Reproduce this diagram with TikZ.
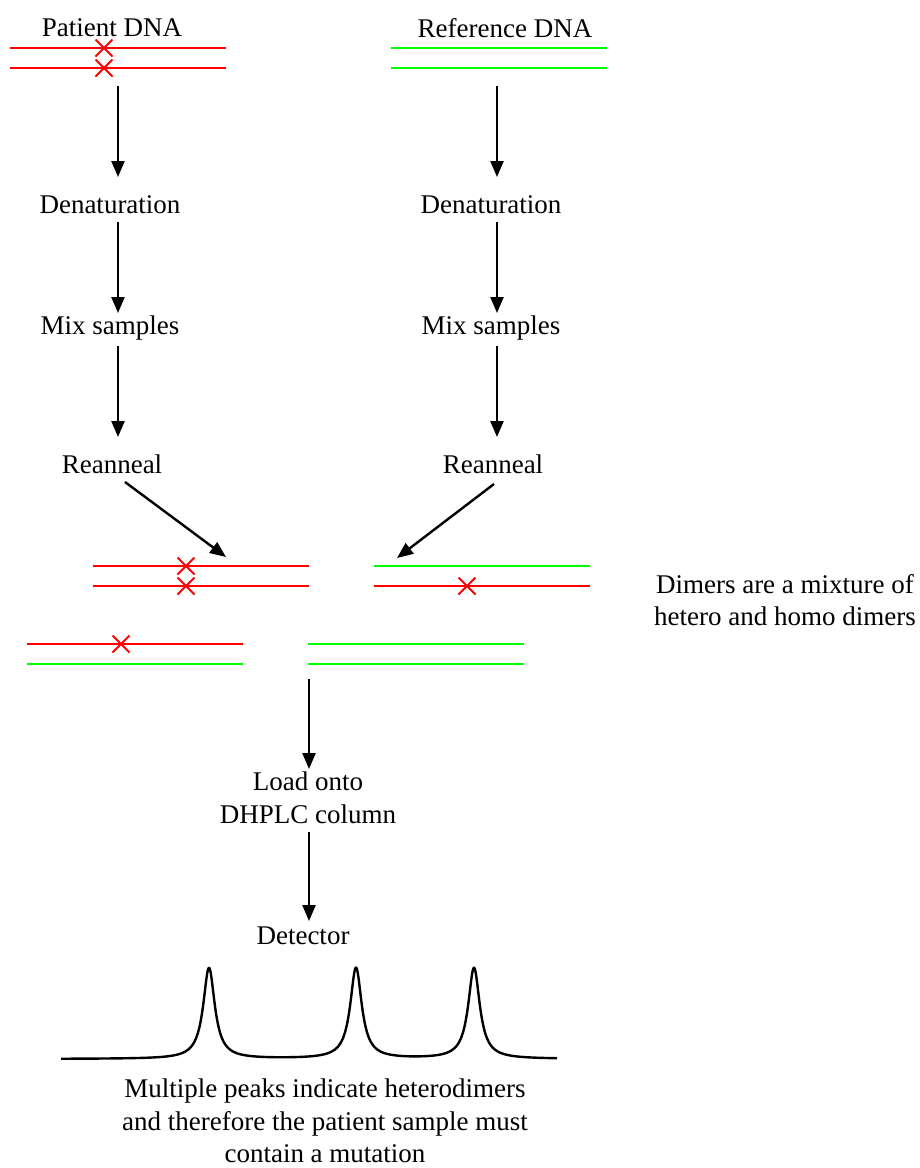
\documentclass[tikz,border=0pt]{standalone}
\usepackage{fontspec}
\setmainfont{Liberation Serif}
\usetikzlibrary{arrows.meta}
\definecolor{dnared}{RGB}{255,0,0}
\definecolor{dnagreen}{RGB}{0,255,0}
\tikzset{
  lbl/.style={inner sep=0pt, font=\fontsize{27}{32.5}\selectfont, align=center},
  arr/.style={line width=2.4pt, -{Triangle[length=16pt,width=13pt]}},
  rstrand/.style={draw=dnared, line width=2.2pt},
  gstrand/.style={draw=dnagreen, line width=2.2pt},
  mut/.style={draw=dnared, line width=1.8pt},
}
\newcommand{\mutx}[2]{\draw[mut] (#1-8.5,#2-8.5) -- (#1+8.5,#2+8.5) (#1-8.5,#2+8.5) -- (#1+8.5,#2-8.5);}
\begin{document}
\begin{tikzpicture}[x=1pt,y=-1pt]
\useasboundingbox (0,0) rectangle (920,1168);
% titles
\node[lbl] (pdna) at (112,28) {Patient DNA};
\node[lbl] (rdna) at (505,28) {Reference DNA};
% top strands
\draw[rstrand] (10,48) -- (226,48);
\draw[rstrand] (10,68) -- (226,68);
\mutx{104}{48}
\mutx{104}{68}
\draw[gstrand] (391,48) -- (607,48);
\draw[gstrand] (391,68) -- (607,68);
% left column
\node[lbl] (den1) at (110,205) {Denaturation};
\node[lbl] (mix1) at (110,328) {Mix samples};
\node[lbl] (rea1) at (112,464) {Reanneal};
% right column
\node[lbl] (den2) at (491,205) {Denaturation};
\node[lbl] (mix2) at (491,328) {Mix samples};
\node[lbl] (rea2) at (493,464) {Reanneal};
% arrow coordinates
\coordinate (pa) at (118,86);  \coordinate (pb) at (118,177);
\coordinate (pc) at (118,222); \coordinate (pd) at (118,313);
\coordinate (pe) at (118,346); \coordinate (pf) at (118,437);
\coordinate (ra) at (497,86);  \coordinate (rb) at (497,177);
\coordinate (rc) at (497,222); \coordinate (rd) at (497,313);
\coordinate (re) at (497,346); \coordinate (rf) at (497,437);
\coordinate (la) at (125,482); \coordinate (lb) at (226,557);
\coordinate (rg) at (494,484); \coordinate (rh) at (397,558);
\draw[arr] (pa) -- (pb);
\draw[arr] (pc) -- (pd);
\draw[arr] (pe) -- (pf);
\draw[arr] (ra) -- (rb);
\draw[arr] (rc) -- (rd);
\draw[arr] (re) -- (rf);
\draw[arr] (la) -- (lb);
\draw[arr] (rg) -- (rh);
% dimers
\draw[rstrand] (93,566) -- (309,566);
\draw[rstrand] (93,586) -- (309,586);
\mutx{186}{566}
\mutx{186}{586}
\draw[gstrand] (374,566) -- (590,566);
\draw[rstrand] (374,586) -- (590,586);
\mutx{467}{586}
\draw[rstrand] (27,644) -- (243,644);
\mutx{121}{644}
\draw[gstrand] (27,664) -- (243,664);
\draw[gstrand] (308,644) -- (524,644);
\draw[gstrand] (308,664) -- (524,664);
\node[lbl] (mixnote) at (785,600) {Dimers are a mixture of\\hetero and homo dimers};
% lower chain
\node[lbl] (load) at (308,798) {Load onto\\DHPLC column};
\node[lbl] (det) at (303,936) {Detector};
\coordinate (ma) at (309,679); \coordinate (mb) at (309,769);
\coordinate (mc) at (309,832); \coordinate (md) at (309,921);
\draw[arr] (ma) -- (mb);
\draw[arr] (mc) -- (md);
% chromatogram
\draw[line width=2.4pt, line join=round] plot[domain=61:557, samples=700, smooth]
  (\x, {1059 - 91/(1+((\x-209)/7)^2) - 91/(1+((\x-356)/7)^2) - 91/(1+((\x-474)/7)^2)});
\node[lbl] (concl) at (325,1121) {Multiple peaks indicate heterodimers\\and therefore the patient sample must\\contain a mutation};
\end{tikzpicture}
\end{document}
